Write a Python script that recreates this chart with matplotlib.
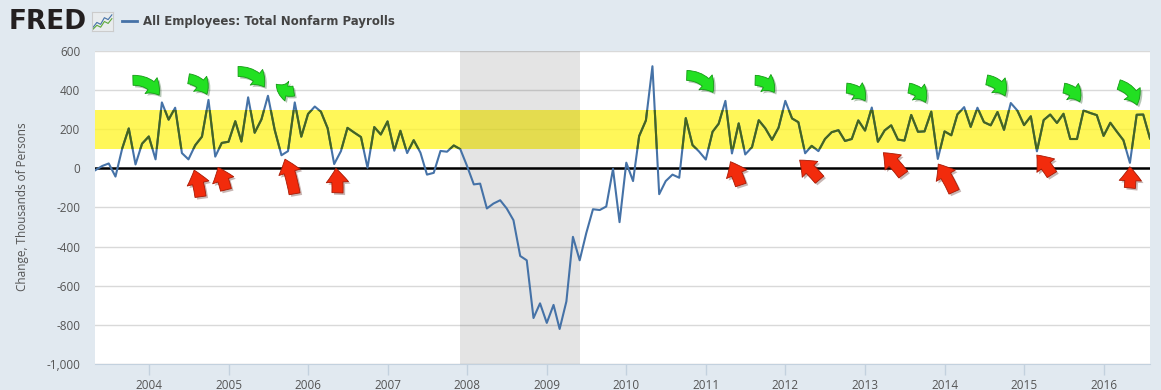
import numpy as np
import pandas as pd
import matplotlib
matplotlib.use('Agg')
import matplotlib.pyplot as plt
import matplotlib.dates as mdates
import matplotlib.patheffects as pe
from matplotlib.patches import Rectangle
from matplotlib.lines import Line2D
from matplotlib.ticker import FuncFormatter
from datetime import datetime

################################################
######## DATA ########
################################################
FIRST_MONTH = '2003-05-01'
LAST_MONTH = '2016-08-01'

# monthly change, thousands of persons (May 2003 .. Aug 2016)
payroll_change = [
    -9, 12, 25, -42, 102, 204, 20, 126,                                  # 2003
    163, 46, 337, 249, 310, 78, 46, 118, 162, 350, 60, 130,              # 2004
    136, 241, 137, 363, 182, 250, 371, 196, 67, 88, 337, 162,            # 2005
    278, 316, 290, 205, 22, 88, 207, 183, 160, 3, 211, 173,              # 2006
    240, 90, 192, 78, 144, 80, -32, -23, 89, 85, 117, 98,                # 2007
    12, -82, -78, -205, -180, -163, -205, -265, -448, -470, -765, -690,  # 2008
    -790, -698, -821, -680, -350, -470, -332, -209, -213, -195, -3, -275, # 2009
    29, -65, 165, 245, 522, -132, -65, -32, -48, 257, 119, 86,           # 2010
    45, 187, 228, 345, 76, 230, 71, 108, 246, 205, 146, 208,             # 2011
    345, 255, 236, 77, 115, 88, 150, 185, 195, 140, 150, 245,            # 2012
    193, 311, 136, 194, 220, 147, 142, 273, 187, 189, 290, 48,           # 2013
    189, 169, 276, 313, 212, 310, 236, 220, 288, 197, 334, 296,          # 2014
    221, 266, 87, 247, 275, 232, 279, 150, 150, 296, 283, 272,           # 2015
    166, 233, 189, 144, 28, 274, 275, 153,                               # 2016
]

RECESSION = ('2007-12-01', '2009-06-01')
BAND = (100, 300)
Y_TICKS = list(range(-1000, 601, 200))
X_TICK_YEARS = list(range(2004, 2017))

# annotation arrows, (decimal year, value)
green_tails = [(2003.80, 450), (2004.50, 458), (2005.12, 495), (2005.82, 395),
               (2010.76, 475), (2011.62, 450), (2012.77, 410), (2013.55, 410),
               (2014.53, 452), (2015.50, 410), (2016.19, 428)]
green_tips = [(2004.13, 374), (2004.73, 378), (2005.45, 416), (2005.60, 430),
              (2011.09, 388), (2011.86, 388), (2013.00, 345), (2013.76, 337),
              (2014.76, 370), (2015.70, 340), (2016.42, 323)]
red_tails = [(2004.65, -145), (2004.97, -110), (2005.83, -130), (2006.37, -125),
             (2011.44, -85), (2012.43, -58), (2013.48, -32), (2014.12, -120),
             (2015.35, -32), (2016.33, -100)]
red_tips = [(2004.57, -9), (2004.87, 5), (2005.71, 47), (2006.35, 0),
            (2011.31, 34), (2012.18, 42), (2013.23, 80), (2013.92, 22),
            (2015.16, 68), (2016.33, 8)]

# tiny logo sparkline
icon_blue = [0.2, 0.45, 0.35, 0.7, 0.6, 0.85]
icon_green = [0.1, 0.3, 0.2, 0.5, 0.4, 0.65]

BG = '#E1E9F0'
BLUE = '#4572A7'
TXT = '#555555'


def year_to_num(y):
    """decimal year -> matplotlib date number"""
    base = mdates.date2num(datetime(int(y), 1, 1))
    return base + (y - int(y)) * 365.25


def draw_arrows(ax, tails, tips, fc, ec, rad, scale):
    shadow = [pe.SimplePatchShadow(offset=(1.5, -1.5), alpha=0.3), pe.Normal()]
    for (tx, ty), (hx, hy) in zip(tails, tips):
        ann = ax.annotate('', xy=(year_to_num(hx), hy), xytext=(year_to_num(tx), ty),
                          annotation_clip=False, zorder=6,
                          arrowprops=dict(arrowstyle='simple,head_length=1.0,head_width=1.6,tail_width=0.8',
                                          connectionstyle='arc3,rad=%s' % rad, mutation_scale=scale,
                                          fc=fc, ec=ec, lw=0.6, shrinkA=0, shrinkB=0))
        ann.arrow_patch.set_path_effects(shadow)


dates = pd.date_range(FIRST_MONTH, LAST_MONTH, freq='MS')
values = np.array(payroll_change)

fig = plt.figure(figsize=(11.61, 3.90), dpi=100, facecolor=BG)
ax = fig.add_axes([0.0822, 0.0667, 0.9083, 0.8026])
ax.set_facecolor('white')

ax.set_xlim(dates[0], dates[-1])
ax.set_ylim(-1000, 600)

# grid + shading
ax.yaxis.grid(True, color='#D9D9D9', lw=1, zorder=0)
ax.set_axisbelow(True)
ax.axhspan(BAND[0], BAND[1], color='#FFF52A', alpha=0.78, lw=0, zorder=1)
ax.axvspan(pd.Timestamp(RECESSION[0]), pd.Timestamp(RECESSION[1]),
           color='black', alpha=0.105, lw=0, zorder=2)
ax.axhline(0, color='black', lw=1.8, zorder=3)

# series; the part inside the yellow band looks olive green
ax.plot(dates, values, color=BLUE, lw=1.5, zorder=4)
green_line, = ax.plot(dates, values, color='#46651C', lw=1.5, zorder=5)
x0 = mdates.date2num(dates[0])
x1 = mdates.date2num(dates[-1])
clip = Rectangle((x0, BAND[0]), x1 - x0, BAND[1] - BAND[0], transform=ax.transData)
green_line.set_clip_path(clip)

# arrows
draw_arrows(ax, green_tails, green_tips, '#22E022', '#159A15', -0.3, 9)
draw_arrows(ax, red_tails, red_tips, '#F22B0C', '#A81A05', 0.05, 10)

# axes styling
for s in ['top', 'right', 'left']:
    ax.spines[s].set_visible(False)
ax.spines['bottom'].set_color('#C3D1DE')

ax.set_xticks([pd.Timestamp(f'{y}-01-01') for y in X_TICK_YEARS])
ax.set_xticklabels([str(y) for y in X_TICK_YEARS])
ax.set_yticks(Y_TICKS)
ax.yaxis.set_major_formatter(FuncFormatter(lambda v, p: '{:,.0f}'.format(v)))
ax.tick_params(axis='x', colors='#C3D1DE', length=8, width=1, pad=3,
               labelcolor=TXT, labelsize=8.5)
ax.tick_params(axis='y', length=0, pad=11, labelcolor=TXT, labelsize=8.5)
for lab in ax.get_xticklabels() + ax.get_yticklabels():
    lab.set_family('Open Sans')

fig.text(0.019, 0.469, 'Change, Thousands of Persons', rotation=90, va='center', ha='center',
         fontsize=8.5, color=TXT, family='Open Sans')

# header
fig.text(0.0075, 1 - 22 / 390, 'FRED', va='center', ha='left', fontsize=19,
         fontweight='heavy', color='#231F20')
icon = fig.add_axes([92 / 1161, (390 - 31) / 390, 21 / 1161, 19 / 390])
icon.set_facecolor('#E9ECEE')
icon.plot(icon_blue, color=BLUE, lw=0.8)
icon.plot(icon_green, color='#5DAA3A', lw=0.8)
icon.set_xlim(-0.3, 5.3)
icon.set_ylim(0, 1)
icon.set_xticks([])
icon.set_yticks([])
for s in icon.spines.values():
    s.set_color('#CCCCCC')
fig.add_artist(Line2D([122 / 1161, 137 / 1161], [1 - 21 / 390] * 2,
                      transform=fig.transFigure, color=BLUE, lw=2))
fig.text(143 / 1161, 1 - 21 / 390, 'All Employees: Total Nonfarm Payrolls',
         va='center', ha='left', fontsize=8.5, fontweight='bold', color='#444444')

fig.savefig('out.png', dpi=100, facecolor=BG)
